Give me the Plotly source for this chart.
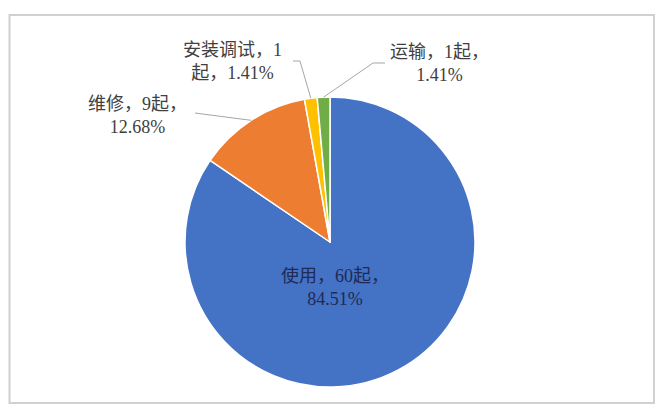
import numpy as np
import plotly.graph_objects as go

# categories and counts
categories = ["使用", "维修", "安装调试", "运输"]
counts = [60, 9, 1, 1]
percents = [84.51, 12.68, 1.41, 1.41]
colors = ["#4472C4", "#ED7D31", "#FFC000", "#70AD47"]

W, H = 663, 416
OFF = 8  # the page body margin pushes the plot 8px right/down
CX, CY, R = 330, 242, 145  # pie centre / radius in screen px


def px(x):
    return (x - OFF) / (W - OFF)


def py(y):
    return 1 - (y - OFF) / (H - OFF)


font_family = "Liberation Serif, Noto Sans CJK SC"

fig = go.Figure()
fig.add_trace(go.Pie(
        labels=categories,
        values=counts,
        sort=False,
        direction="clockwise",
        rotation=0,
        textinfo="none",
        hoverinfo="label+value+percent",
        marker=dict(colors=colors, line=dict(color="white", width=1.5)),
        domain=dict(x=[px(CX - R), px(CX + R)], y=[py(CY + R), py(CY - R)]),
        showlegend=False,
))

# label text: "name，n起，pct%" broken in two lines like the original
label_texts = [
        f"{categories[0]}，{counts[0]}起，<br>{percents[0]:.2f}%",
        f"{categories[1]}，{counts[1]}起，<br>{percents[1]:.2f}%",
        f"{categories[2]}，{counts[2]}<br>起，{percents[2]:.2f}%",
        f"{categories[3]}，{counts[3]}起，<br>{percents[3]:.2f}%",
]
label_pos = [(335, 287), (137, 116), (232, 62), (439, 64)]
label_colors = ["#1f2a55", "#404040", "#404040", "#404040"]

# leader line elbows (label side), index matches categories; None = no line
elbows = [None, [(195, 113)], [(293, 61), (300, 61)], [(385, 63), (373, 63)]]

total = sum(counts)
cum = np.cumsum([0] + counts)
shapes = []
for i, (text, (lx, ly)) in enumerate(zip(label_texts, label_pos)):
    fig.add_annotation(
            x=px(lx), y=py(ly), xref="paper", yref="paper",
            text=text, showarrow=False, align="center",
            xanchor="center", yanchor="middle",
            font=dict(family=font_family, size=18, color=label_colors[i]),
    )
    if elbows[i] is None:
        continue
    mid = (cum[i] + cum[i + 1]) / 2 / total * 2 * np.pi
    ax = CX + R * np.sin(mid)
    ay = CY - R * np.cos(mid)
    pts = elbows[i] + [(ax, ay)]
    path = "M " + " L ".join(f"{px(x):.4f},{py(y):.4f}" for x, y in pts)
    shapes.append(dict(type="path", xref="paper", yref="paper", path=path,
                       line=dict(color="#a6a6a6", width=1)))

# chart frame (left edge kept just inside the visible plot area)
shapes.append(dict(type="rect", xref="paper", yref="paper",
                   x0=px(9.5), x1=px(654), y0=py(403), y1=py(15),
                   line=dict(color="#d0d0d0", width=2)))

fig.update_layout(
        width=W - OFF, height=H - OFF,
        margin=dict(l=0, r=0, t=0, b=0),
        paper_bgcolor="white",
        plot_bgcolor="white",
        shapes=shapes,
)

fig.write_html("out.html")
